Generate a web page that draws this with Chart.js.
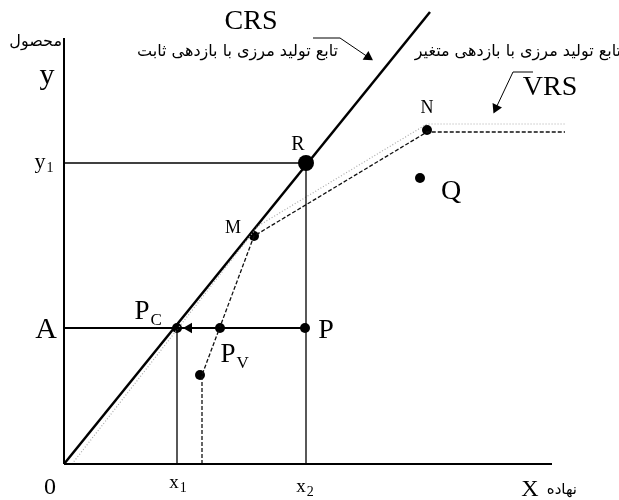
<!DOCTYPE html>
<html><head><meta charset="utf-8">
<script src="https://cdn.jsdelivr.net/npm/chart.js@4/dist/chart.umd.min.js"></script>
<style>html,body{margin:0;padding:0;background:#fff;}canvas{display:block;}</style>
</head><body>
<canvas id="c" width="619" height="500"></canvas>
<script>
// Data coordinates: origin of the diagram at (0,0)
const xAxisLine   = [[0,0],[488,0]];
const yAxisLine   = [[0,0],[0,426]];
const crsFrontier = [[0,0],[366,452]];
const vrsFrontier = [[138,0],[138,89],[190,228],[363,332],[501,332]];
const vrsEnvelope = [[8,0],[194,238],[363,340],[501,340]];
const y1Guide     = [[0,301],[242,301]];
const x2Guide     = [[242,301],[242,0]];
const aGuide      = [[0,136],[241,136]];
const x1Guide     = [[113,136],[113,0]];
const pointNames  = ['Pc','Pv','P','low','M','R','N','Q'];
const pointX      = [113,156,241,136,190,242,363,356];
const pointY      = [136,136,136,89,228,301,334,286];
const crsArrow    = [[249,426],[276,426],[304,407]];
const vrsArrow    = [[469,392],[449,392],[432,356]];
const leftArrowOnA = [[125,136]];

const toPts = a => a.map(p => ({x:p[0], y:p[1]}));
function line(data, color, width, dash) {
  return {data: toPts(data), showLine: true, borderColor: color, borderWidth: width,
    borderDash: dash || [], pointRadius: 0, fill: false, tension: 0};
}
const big = pointNames.map(n => n === 'R' ? 8 : 5);

const datasets = [
  line(xAxisLine, '#000', 2),
  line(yAxisLine, '#000', 2),
  line(y1Guide, '#000', 1.3),
  line(x2Guide, '#000', 1.3),
  line(x1Guide, '#000', 1.3),
  line(aGuide, '#000', 2),
  line(vrsEnvelope, '#aaa', 1.2, [1,2]),
  line(vrsFrontier, '#111', 1.3, [4,2]),
  line(crsFrontier, '#000', 2.5),
  line(crsArrow, '#000', 1),
  line(vrsArrow, '#000', 1),
  {data: pointX.map((x,i)=>({x, y: pointY[i]})), showLine:false, pointRadius: big,
   pointBackgroundColor:'#000', pointBorderColor:'#000', pointBorderWidth:0},
  {data: toPts(leftArrowOnA), showLine:false, pointStyle:'triangle', rotation:270, pointRadius:6,
   pointBackgroundColor:'#000', pointBorderColor:'#000', pointBorderWidth:0},
  {data: toPts([crsArrow[2]]), showLine:false, pointStyle:'triangle', rotation:124, pointRadius:6,
   pointBackgroundColor:'#000', pointBorderColor:'#000', pointBorderWidth:0},
  {data: toPts([vrsArrow[2]]), showLine:false, pointStyle:'triangle', rotation:205, pointRadius:6,
   pointBackgroundColor:'#000', pointBorderColor:'#000', pointBorderWidth:0}
];

const serif = '"Liberation Serif", "DejaVu Serif", serif';
const fa = '"DejaVu Sans", sans-serif';
// [text, x, y, size, family, align, subscript, subSize]
const labels = [
  ['CRS', 187, 442, 28, serif, 'center'],
  ['VRS', 486, 376, 28, serif, 'center'],
  ['تابع تولید مرزی با بازدهی ثابت', 274, 412, 16, fa, 'right'],
  ['تابع تولید مرزی با بازدهی متغیر', 557, 412, 16, fa, 'right'],
  ['محصول', -2, 422, 16, fa, 'right'],
  ['y', -17, 388, 30, serif, 'center'],
  ['y', -24, 302, 22, serif, 'center', '1', 14],
  ['A', -18, 134, 30, serif, 'center'],
  ['0', -14, -24, 24, serif, 'center'],
  ['x', 110, -19, 19, serif, 'center', '1', 14],
  ['x', 237, -23, 19, serif, 'center', '2', 14],
  ['X', 466, -26, 24, serif, 'center'],
  ['نهاده', 513, -26, 15, fa, 'right'],
  ['P', 78, 152, 27, serif, 'center', 'C', 17],
  ['P', 164, 109, 27, serif, 'center', 'V', 17],
  ['P', 262, 133, 28, serif, 'center'],
  ['Q', 387, 272, 28, serif, 'center'],
  ['N', 363, 356, 18, serif, 'center'],
  ['R', 234, 319, 20, serif, 'center'],
  ['M', 169, 236, 18, serif, 'center']
];

const textPlugin = {
  id: 'texts',
  afterDatasetsDraw(chart) {
    const {ctx, scales:{x, y}} = chart;
    ctx.save();
    ctx.fillStyle = '#000';
    ctx.textBaseline = 'middle';
    labels.forEach(l => {
      const [t, dx, dy, size, fam, align, sub, subSize] = l;
      const px = x.getPixelForValue(dx), py = y.getPixelForValue(dy);
      ctx.font = size + 'px ' + fam;
      ctx.textAlign = align;
      ctx.fillText(t, px, py);
      if (sub) {
        const w = ctx.measureText(t).width;
        ctx.font = subSize + 'px ' + fam;
        ctx.textAlign = 'left';
        ctx.fillText(sub, px + w/2 + 1, py + size*0.3);
      }
    });
    ctx.restore();
  }
};

new Chart(document.getElementById('c'), {
  type: 'scatter',
  data: {datasets},
  options: {
    responsive: false, animation: false,
    layout: {padding: 0, autoPadding: false},
    plugins: {legend:{display:false}, tooltip:{enabled:false}},
    scales: {
      x: {type:'linear', min:-64, max:555, display:false},
      y: {type:'linear', min:-36, max:464, display:false}
    },
    elements: {line: {borderCapStyle:'butt'}}
  },
  plugins: [textPlugin]
});
</script>
</body></html>
